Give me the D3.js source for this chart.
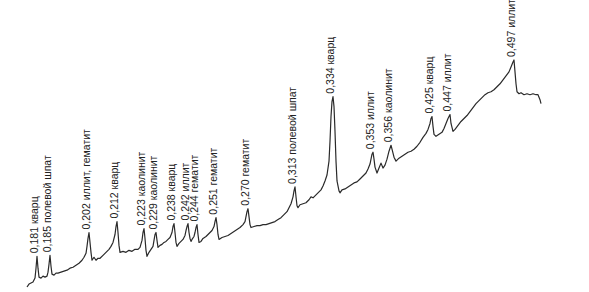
<!DOCTYPE html>
<html>
<head>
<meta charset="utf-8">
<script src="https://cdn.jsdelivr.net/npm/d3@7"></script>
<style>
  body { margin: 0; background: #fff; }
</style>
</head>
<body>
<div id="chart"></div>
<script>
// scan channel vs counts
const trace = [
  [0,3],[2,6],[4,7],[6,8],[8,12],[9,22],[10,34],[11,22],[12,13],[14,12],[16,14],[18,13],[20,14],
  [21,18],[22,26],[23,35],[24,24],[25,16],[27,15],[29,17],[31,17],[34,18],[37,19],[40,20],[43,22],
  [46,23],[49,25],[52,27],[55,30],[57,33],[59,37],[60,44],[61,52],[62,58],[63,48],[64,38],[65,30],
  [67,33],[69,30],[71,32],[73,32],[76,35],[79,38],[82,41],[84,44],[86,48],[88,56],[89,64],[90,69],
  [91,58],[92,45],[93,38],[96,39],[99,38],[102,40],[105,39],[108,41],[111,41],[113,43],[115,50],
  [116,58],[117,62],[118,52],[119,40],[120,34],[122,38],[124,41],[126,44],[127,50],[128,56],[129,58],
  [130,50],[131,43],[133,45],[135,46],[137,48],[139,49],[141,51],[143,53],[145,58],[146,64],[147,67],
  [148,58],[149,48],[150,44],[152,47],[154,49],[156,51],[158,55],[159,60],[160,64],[161,67],[162,58],
  [163,52],[164,49],[165,51],[167,54],[168,58],[169,63],[170,66],[171,56],[172,48],[174,49],[176,52],
  [179,54],[182,57],[185,60],[187,64],[188,69],[189,73],[190,66],[191,56],[192,51],[195,53],[198,54],
  [201,55],[204,57],[207,59],[210,61],[213,63],[216,66],[218,69],[219,74],[220,79],[221,82],[222,74],
  [223,66],[224,63],[227,64],[230,65],[233,65],[236,66],[239,66],[242,67],[245,68],[248,69],[251,71],
  [254,73],[257,76],[260,79],[262,83],[264,87],[266,94],[267,100],[268,104],[269,94],[270,85],[271,83],
  [273,86],[276,87],[279,88],[282,91],[284,94],[286,93],[288,95],[290,97],[292,99],[294,101],[296,105],
  [298,110],[300,116],[302,130],[303,150],[304,175],[305,190],[306,195],[307,185],[308,160],[309,130],
  [310,110],[312,100],[313,98],[315,101],[318,102],[321,104],[324,106],[327,108],[330,109],[333,112],
  [336,115],[339,118],[341,122],[343,127],[344,132],[345,137],[346,139],[347,132],[348,124],[350,118],
  [352,123],[354,128],[356,123],[358,126],[360,132],[362,140],[364,146],[365,142],[367,134],[369,130],
  [372,133],[375,135],[378,137],[381,139],[384,140],[387,142],[390,145],[393,149],[396,154],[399,158],
  [401,162],[403,168],[404,173],[405,175],[406,165],[407,157],[409,155],[412,157],[415,159],[417,163],
  [419,168],[421,173],[423,177],[424,168],[426,160],[428,162],[431,166],[434,170],[437,173],[440,176],
  [443,180],[446,184],[449,188],[452,191],[455,194],[458,197],[461,199],[464,200],[467,202],[470,205],
  [473,208],[476,212],[479,216],[482,220],[484,225],[486,230],[487,232],[488,220],[489,208],[490,200],
  [492,198],[494,199],[497,197],[500,198],[503,197],[506,198],[509,197],[511,197],[513,192],[514,188]
];

// labelled peaks
const peakD = ["0,181","0,185","0,202","0,212","0,223","0,229","0,238","0,242","0,244",
  "0,251","0,270","0,313","0,334","0,353","0,356","0,425","0,447","0,497"];
const peakMineral = ["кварц","полевой шпат","иллит, гематит","кварц","каолинит","каолинит",
  "кварц","иллит","гематит","гематит","гематит","полевой шпат","кварц","иллит","каолинит",
  "кварц","иллит","иллит"];
const peakChannel = [10,23,62,90,117,129,147,161,170,189,221,268,306,346,364,405,423,487];

const width = 589, height = 292;

const svg = d3.select("#chart")
    .append("svg")
    .attr("width", width)
    .attr("height", height);

const x = d3.scaleLinear()
    .domain([0, 514])
    .range([27, 541]);

const y = d3.scaleLinear()
    .domain([0, 232])
    .range([290, 60]);

const line = d3.line()
    .x(d => x(d[0]))
    .y(d => y(d[1]));

svg.append("path")
    .datum(trace)
    .attr("d", line)
    .attr("fill", "none")
    .attr("stroke", "#2a2a2a")
    .attr("stroke-width", 1.2)
    .attr("stroke-linejoin", "round");

// label sits just above the top of its peak
peakChannel.forEach(function (ch, i) {
    const pt = trace.find(d => d[0] === ch);
    const px = x(ch) + 1;
    const py = y(pt[1]) - 3;
    svg.append("text")
        .attr("transform", `translate(${px}, ${py}) rotate(-90)`)
        .attr("font-family", "'Liberation Sans Narrow', 'Arial Narrow', 'Liberation Sans', Arial, sans-serif")
        .attr("font-size", 10.5)
        .attr("fill", "#222")
        .text(peakD[i] + " " + peakMineral[i]);
});
</script>
</body>
</html>
